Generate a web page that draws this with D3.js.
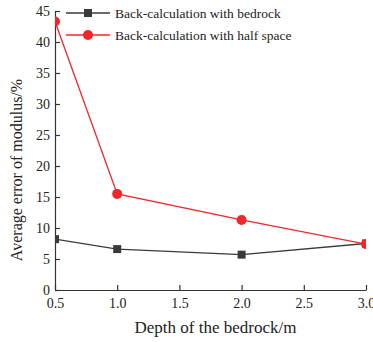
<!DOCTYPE html>
<html>
<head>
<meta charset="utf-8">
<script src="https://cdn.jsdelivr.net/npm/d3@7"></script>
<style>
  body { margin: 0; background: #fff; }
  svg text { font-family: "Liberation Serif", "DejaVu Serif", serif; fill: #222; }
</style>
</head>
<body>
<div id="chart"></div>
<script>
var depths = [0.5, 1.0, 2.0, 3.0];
var bedrock = [8.2, 6.6, 5.7, 7.5];
var halfSpace = [43.3, 15.5, 11.3, 7.4];
var xTicks = [0.5, 1.0, 1.5, 2.0, 2.5, 3.0];
var yTicks = [0, 5, 10, 15, 20, 25, 30, 35, 40, 45];
var seriesNames = ["Back-calculation with bedrock", "Back-calculation with half space"];

var margin = {top: 11, right: 7, bottom: 52, left: 55},
    width = 373 - margin.left - margin.right,
    height = 342 - margin.top - margin.bottom;

var svg = d3.select("#chart").append("svg")
    .attr("width", 373)
    .attr("height", 342)
    .append("g")
    .attr("transform", "translate(" + margin.left + "," + margin.top + ")");

var x = d3.scaleLinear().domain([0.5, 3.0]).range([0, width]);
var y = d3.scaleLinear().domain([0, 45]).range([height, 0]);

svg.append("defs").append("clipPath").attr("id", "clip")
    .append("rect").attr("width", width).attr("height", height + 1);

// axes, ticks point inward
var xAxis = svg.append("g")
    .attr("transform", "translate(0," + height + ")")
    .call(d3.axisBottom(x).tickValues(xTicks).tickFormat(d3.format(".1f")).tickSizeInner(-5).tickSizeOuter(0));
xAxis.selectAll("text").attr("y", 8).style("font-size", "14px");

var yAxis = svg.append("g")
    .call(d3.axisLeft(y).tickValues(yTicks).tickSizeInner(-5).tickSizeOuter(0));
yAxis.selectAll("text").attr("x", -5).style("font-size", "14px");

svg.selectAll(".domain").attr("stroke", "#333").attr("stroke-width", 1.2);
svg.selectAll(".tick line").attr("stroke", "#333").attr("stroke-width", 1.2);

var colors = ["#3a3a3a", "#f0262a"];
var data = [bedrock, halfSpace];

var line = d3.line()
    .x(function(d, i) { return x(depths[i]); })
    .y(function(d) { return y(d); });

var plot = svg.append("g").attr("clip-path", "url(#clip)");

data.forEach(function(vals, s) {
  plot.append("path")
      .datum(vals)
      .attr("fill", "none")
      .attr("stroke", colors[s])
      .attr("stroke-width", 1.3)
      .attr("d", line);
  if (s === 0) {
    plot.selectAll(".sq")
        .data(vals)
        .enter().append("rect")
        .attr("x", function(d, i) { return x(depths[i]) - 4; })
        .attr("y", function(d) { return y(d) - 4; })
        .attr("width", 8).attr("height", 8)
        .attr("fill", colors[s]);
  } else {
    plot.selectAll(".dot")
        .data(vals)
        .enter().append("circle")
        .attr("cx", function(d, i) { return x(depths[i]); })
        .attr("cy", function(d) { return y(d); })
        .attr("r", 5)
        .attr("fill", colors[s]);
  }
});

// legend
var legend = svg.append("g").attr("transform", "translate(11,2)");
seriesNames.forEach(function(name, s) {
  var g = legend.append("g").attr("transform", "translate(0," + (s * 22) + ")");
  g.append("line").attr("x1", 0).attr("x2", 44).attr("y1", 0).attr("y2", 0)
      .attr("stroke", colors[s]).attr("stroke-width", 1.3);
  if (s === 0) {
    g.append("rect").attr("x", 18).attr("y", -4).attr("width", 8).attr("height", 8).attr("fill", colors[s]);
  } else {
    g.append("circle").attr("cx", 22).attr("cy", 0).attr("r", 5).attr("fill", colors[s]);
  }
  g.append("text").attr("x", 49).attr("y", 4.5).style("font-size", "13.5px").text(name);
});

// axis titles
svg.append("text")
    .attr("x", width / 2 + 5)
    .attr("y", height + 43)
    .attr("text-anchor", "middle")
    .style("font-size", "17px")
    .text("Depth of the bedrock/m");

svg.append("text")
    .attr("transform", "rotate(-90)")
    .attr("x", -159)
    .attr("y", -33)
    .attr("text-anchor", "middle")
    .style("font-size", "16px")
    .text("Average error of modulus/%");
</script>
</body>
</html>
